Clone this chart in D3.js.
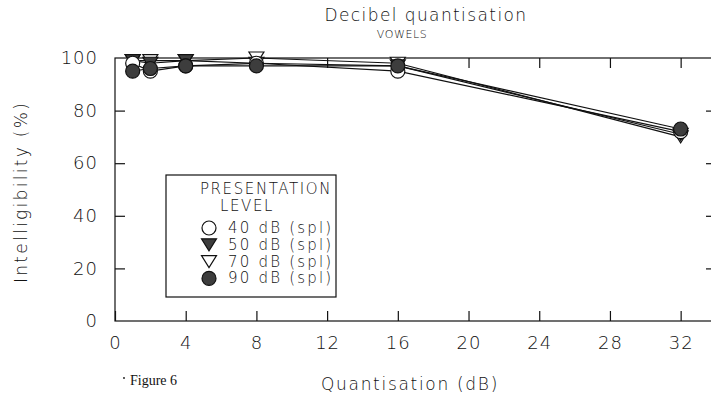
<!DOCTYPE html>
<html>
<head>
<meta charset="utf-8">
<script src="https://cdn.jsdelivr.net/npm/d3@7"></script>
<style>
  html, body { margin: 0; padding: 0; background: #fff; }
  svg text { font-family: "DejaVu Sans", sans-serif; font-weight: 200; fill: #111; }
</style>
</head>
<body>
<svg id="chart" width="711" height="410"></svg>
<script>
// Quantisation step (dB) and intelligibility (%) per presentation level
const quantisation = [1, 2, 4, 8, 16, 32];
const level40 = [98, 95, 97, 98, 95, 72];
const level50 = [99, 98, 99, 98, 97, 71];
const level70 = [99, 99, 99, 100, 98, 70];
const level90 = [95, 96, 97, 97, 97, 73];
const levelLabels = ["40 dB (spl)", "50 dB (spl)", "70 dB (spl)", "90 dB (spl)"];
const markerKinds = ["openCircle", "filledTriDown", "openTriDown", "filledCircle"];
const xTicks = [0, 4, 8, 12, 16, 20, 24, 28, 32];
const yTicks = [0, 20, 40, 60, 80, 100];

const series = [level40, level50, level70, level90].map((vals, i) => ({
  label: levelLabels[i],
  kind: markerKinds[i],
  points: vals.map((v, j) => ({ x: quantisation[j], y: v }))
}));

const svg = d3.select("#chart");
const plot = { left: 115, right: 716, top: 58, bottom: 321 };

const x = d3.scaleLinear().domain([0, 34]).range([plot.left, plot.right]);
const y = d3.scaleLinear().domain([0, 100]).range([plot.bottom, plot.top]);

const ink = "#111";
const sans = '"DejaVu Sans", sans-serif';

// frame
svg.append("rect")
  .attr("x", plot.left).attr("y", plot.top)
  .attr("width", plot.right - plot.left).attr("height", plot.bottom - plot.top)
  .attr("fill", "none").attr("stroke", ink).attr("stroke-width", 1.2);

function styleTickText(sel) {
  sel.attr("font-size", 18).style("font-family", sans).style("font-weight", 200)
    .style("letter-spacing", "1px").attr("fill", ink);
}

// bottom axis: inward ticks, labels below
const xAxisBottom = d3.axisBottom(x).tickValues(xTicks).tickSizeInner(-10).tickSizeOuter(0).tickPadding(15);
const gxb = svg.append("g").attr("transform", `translate(0,${plot.bottom})`).call(xAxisBottom);
gxb.select(".domain").remove();
gxb.selectAll("line").attr("stroke", ink).attr("stroke-width", 1.2);
styleTickText(gxb.selectAll("text"));

// top axis ticks (no labels)
const xAxisTop = d3.axisTop(x).tickValues(xTicks.filter(t => t > 0)).tickSizeInner(-10).tickSizeOuter(0).tickFormat("");
const gxt = svg.append("g").attr("transform", `translate(0,${plot.top})`).call(xAxisTop);
gxt.select(".domain").remove();
gxt.selectAll("line").attr("stroke", ink).attr("stroke-width", 1.2);

// left axis
const yAxisLeft = d3.axisLeft(y).tickValues(yTicks).tickSizeInner(-10).tickSizeOuter(0).tickPadding(17);
const gyl = svg.append("g").attr("transform", `translate(${plot.left},0)`).call(yAxisLeft);
gyl.select(".domain").remove();
gyl.selectAll("line").attr("stroke", ink).attr("stroke-width", 1.2)
  .attr("display", d => (d === 0 || d === 100) ? "none" : null);
styleTickText(gyl.selectAll("text"));

// right axis ticks
const yAxisRight = d3.axisRight(y).tickValues(yTicks.filter(t => t > 0 && t < 100)).tickSizeInner(-10).tickSizeOuter(0).tickFormat("");
const gyr = svg.append("g").attr("transform", `translate(${plot.right},0)`).call(yAxisRight);
gyr.select(".domain").remove();
gyr.selectAll("line").attr("stroke", ink).attr("stroke-width", 1.2);

// series lines
const line = d3.line().x(d => x(d.x)).y(d => y(d.y));
svg.append("g").selectAll("path").data(series).join("path")
  .attr("d", d => line(d.points))
  .attr("fill", "none").attr("stroke", ink).attr("stroke-width", 1.2);

// markers
const stipple = "#3d3d3d";
function drawMarker(g, kind, cx, cy) {
  const r = 7;
  if (kind === "openCircle" || kind === "filledCircle") {
    g.append("circle").attr("cx", cx).attr("cy", cy).attr("r", r)
      .attr("fill", kind === "filledCircle" ? stipple : "#fff")
      .attr("stroke", ink).attr("stroke-width", 1.2);
  } else {
    const h = 12, w = 15;
    const pts = [[cx - w / 2, cy - h / 2], [cx + w / 2, cy - h / 2], [cx, cy + h / 2]];
    g.append("polygon").attr("points", pts.map(p => p.join(",")).join(" "))
      .attr("fill", kind === "filledTriDown" ? stipple : "#fff")
      .attr("stroke", ink).attr("stroke-width", 1.2);
  }
}
// draw order: open triangles, filled triangles, open circles, filled circles
const drawOrder = [2, 1, 0, 3];
const gm = svg.append("g");
drawOrder.forEach(i => {
  const s = series[i];
  s.points.forEach(p => drawMarker(gm, s.kind, x(p.x), y(p.y)));
});

// legend
const lg = svg.append("g");
lg.append("rect").attr("x", 166).attr("y", 175).attr("width", 170).attr("height", 122)
  .attr("fill", "#fff").attr("stroke", ink).attr("stroke-width", 1.2);
lg.append("text").attr("x", 266).attr("y", 194).attr("text-anchor", "middle").attr("font-size", 15)
  .style("letter-spacing", "1.6px").text("PRESENTATION");
lg.append("text").attr("x", 247).attr("y", 211).attr("text-anchor", "middle").attr("font-size", 15)
  .style("letter-spacing", "1.6px").text("LEVEL");
series.forEach((s, i) => {
  const cy = 228 + i * 16.8;
  drawMarker(lg, s.kind, 209, cy);
  lg.append("text").attr("x", 228).attr("y", cy + 5).attr("font-size", 15)
    .style("letter-spacing", "2.2px").text(s.label);
});

// titles
svg.append("text").attr("x", 426).attr("y", 21).attr("text-anchor", "middle").attr("font-size", 17)
  .style("letter-spacing", "1.4px").text("Decibel quantisation");
svg.append("text").attr("x", 402).attr("y", 38).attr("text-anchor", "middle").attr("font-size", 11)
  .style("letter-spacing", "0.6px").text("VOWELS");
svg.append("text").attr("x", 410).attr("y", 390).attr("text-anchor", "middle").attr("font-size", 17)
  .style("letter-spacing", "1.7px").text("Quantisation (dB)");
svg.append("text").attr("transform", "translate(27,192) rotate(-90)").attr("text-anchor", "middle").attr("font-size", 17)
  .style("letter-spacing", "2.3px").text("Intelligibility (%)");
svg.append("text").attr("x", 130).attr("y", 385).attr("font-size", 14)
  .style("font-family", '"Liberation Serif", "DejaVu Serif", serif').style("font-weight", 400).text("Figure 6");
svg.append("circle").attr("cx", 124).attr("cy", 378).attr("r", 0.9).attr("fill", ink);
</script>
</body>
</html>
